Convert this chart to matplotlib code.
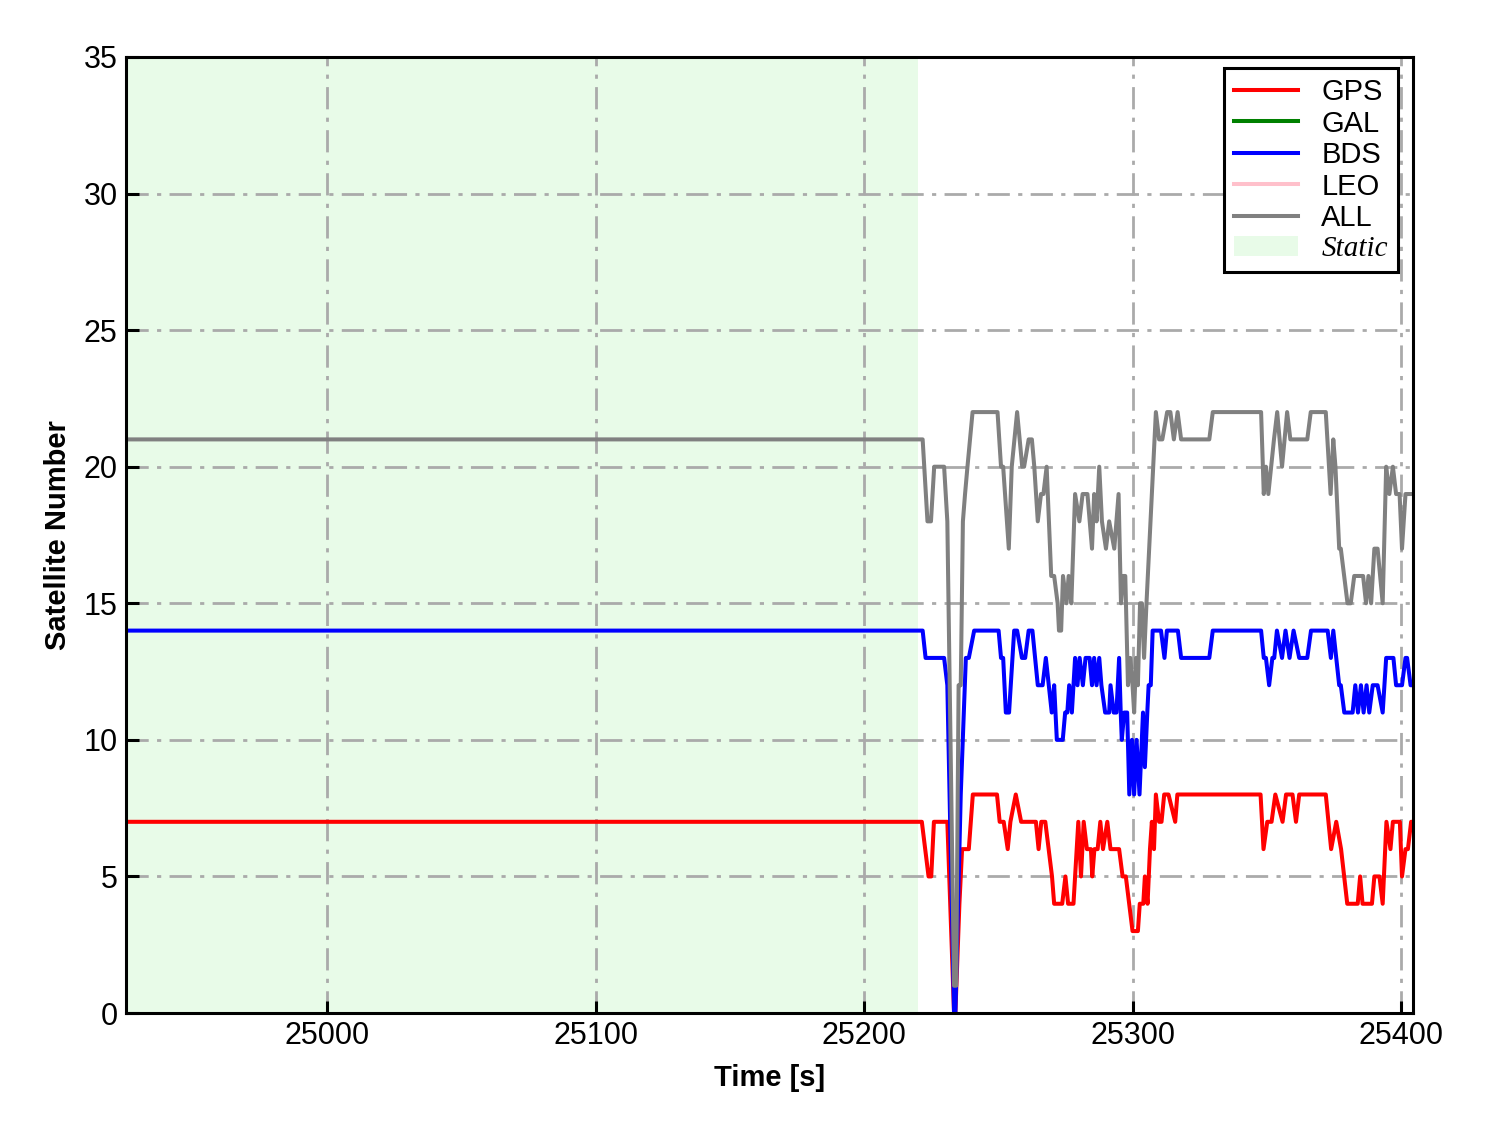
import matplotlib
matplotlib.use("Agg")
import matplotlib.pyplot as plt
from matplotlib.patches import Patch

# (time [s], number of satellites) breakpoints
gps = [(24925, 7), (25221.5, 7), (25224, 5), (25225, 5), (25226, 7), (25231, 7),
       (25233.5, 0), (25234, 0), (25235.5, 4), (25236.5, 6), (25239, 6), (25240.5, 8),
       (25249.5, 8), (25250.5, 7), (25252, 7), (25253.5, 6), (25254.5, 7), (25256.5, 8),
       (25258.5, 7), (25264, 7), (25265, 6), (25266, 7), (25267.5, 7), (25270, 5),
       (25270.8, 4), (25273.8, 4), (25275, 5), (25276, 4), (25278, 4), (25279.8, 7),
       (25280.8, 5), (25281.8, 7), (25283, 6), (25284.5, 6), (25285, 5), (25285.8, 6),
       (25287, 6), (25288, 7), (25289, 6), (25290.6, 7), (25291.8, 6), (25295, 6),
       (25296.3, 5), (25297.5, 5), (25300, 3), (25302, 3), (25302.7, 4), (25304, 4),
       (25304.6, 5), (25305.6, 4), (25306.5, 6), (25307.2, 7), (25308, 6), (25308.7, 8),
       (25309.9, 7), (25310.8, 7), (25311.8, 8), (25313.4, 8), (25315.9, 7), (25316.7, 8),
       (25347.7, 8), (25348.8, 6), (25350.2, 7), (25351.8, 7), (25353.2, 8), (25355.9, 7),
       (25357.2, 8), (25359.6, 8), (25360.9, 7), (25362.1, 8), (25372, 8), (25374, 6),
       (25375.9, 7), (25377.7, 6), (25380, 4), (25383.9, 4), (25384.8, 5), (25385.7, 4),
       (25389.2, 4), (25390.1, 5), (25392, 5), (25393.2, 4), (25394.6, 7), (25396.1, 6),
       (25397, 7), (25399.6, 7), (25400.4, 5), (25401.7, 6), (25402.6, 6), (25403.8, 7),
       (25405, 7)]

bds = [(24925, 14), (25221.8, 14), (25222.9, 13), (25229.8, 13), (25231, 12),
       (25233.5, 0), (25234, 0), (25236, 8), (25237.9, 13), (25239, 13), (25241, 14),
       (25250.1, 14), (25251, 13), (25251.8, 13), (25252.8, 11), (25254, 11),
       (25255.9, 14), (25257, 14), (25258.8, 13), (25260, 13), (25261.3, 14),
       (25262.7, 14), (25264.7, 12), (25266.5, 12), (25267.7, 13), (25269.9, 11),
       (25270.8, 12), (25271.8, 10), (25274, 10), (25274.9, 11), (25275.7, 11),
       (25276.4, 12), (25277.4, 11), (25278.6, 13), (25279.5, 12), (25280.3, 13),
       (25281.5, 12), (25282.5, 13), (25284, 13), (25284.9, 12), (25285.7, 13),
       (25286.6, 12), (25287.6, 13), (25288.4, 12), (25289.8, 11), (25291.3, 11),
       (25291.8, 12), (25293, 11), (25294, 11), (25295, 13), (25295.6, 11), (25296, 10),
       (25296.9, 11), (25298, 11), (25298.8, 8), (25299.8, 10), (25300.6, 8),
       (25301.5, 10), (25302.6, 8), (25303.9, 11), (25304.6, 9), (25305.5, 11),
       (25306, 12), (25306.8, 12), (25307.5, 14), (25310.6, 14), (25311.9, 13),
       (25312.8, 14), (25316.9, 14), (25318.1, 13), (25328.6, 13), (25329.9, 14),
       (25347.9, 14), (25348.9, 13), (25349.7, 13), (25350.9, 12), (25352.1, 13),
       (25352.8, 13), (25353.8, 14), (25355.7, 13), (25357, 14), (25358.5, 13),
       (25360, 14), (25362.1, 13), (25365.1, 13), (25366.5, 14), (25372.7, 14),
       (25373.9, 13), (25374.8, 14), (25377, 12), (25377.6, 12), (25378.9, 11),
       (25382, 11), (25383, 12), (25384, 11), (25385.1, 12), (25386.1, 11),
       (25387.2, 12), (25388.2, 11), (25389.5, 12), (25391.3, 12), (25393.2, 11),
       (25394.5, 13), (25397.2, 13), (25398.2, 12), (25400.4, 12), (25401.7, 13),
       (25402.3, 13), (25403.6, 12), (25405, 12)]

all_sys = [(24925, 21), (25221.8, 21), (25223.6, 18), (25224.9, 18), (25226.1, 20),
           (25229.8, 20), (25231, 18), (25233.5, 1), (25234.3, 1), (25235.2, 12),
           (25236, 12), (25236.8, 18), (25237.6, 19), (25238.5, 20), (25240.4, 22),
           (25249.7, 22), (25251, 20), (25251.8, 20), (25253.9, 17), (25255, 20),
           (25257, 22), (25258.9, 20), (25259.6, 20), (25261.3, 21), (25262.5, 21),
           (25263.4, 20), (25264.7, 18), (25265.9, 19), (25266.8, 19), (25268, 20),
           (25269.7, 16), (25270.8, 16), (25272.1, 15), (25272.6, 14), (25273.4, 14),
           (25274.1, 16), (25275.4, 15), (25276.2, 16), (25277.2, 15), (25278.6, 19),
           (25280.2, 18), (25281.4, 19), (25283.2, 19), (25284.9, 17), (25285.7, 19),
           (25286.6, 18), (25287.6, 20), (25288.6, 18), (25290.1, 17), (25291.3, 18),
           (25293.2, 17), (25294.8, 19), (25295.7, 15), (25296.5, 16), (25297.3, 16),
           (25298.3, 12), (25299.2, 13), (25300, 12), (25300.6, 11), (25301.3, 13),
           (25302, 12), (25302.8, 15), (25303.5, 15), (25304.3, 13), (25305.2, 15),
           (25308.7, 22), (25309.9, 21), (25311.1, 21), (25312.9, 22), (25314.1, 22),
           (25315.4, 21), (25316.8, 22), (25318.1, 21), (25328.6, 21), (25329.9, 22),
           (25347.9, 22), (25348.9, 19), (25349.7, 20), (25350.6, 19), (25352.7, 21),
           (25353.9, 22), (25355.7, 20), (25357.6, 22), (25358.8, 21), (25365.1, 21),
           (25366.4, 22), (25372, 22), (25373.8, 19), (25374.8, 21), (25375.6, 20),
           (25377, 17), (25377.6, 17), (25380.1, 15), (25381.3, 15), (25382.6, 16),
           (25385.9, 16), (25387, 15), (25387.9, 16), (25388.9, 15), (25390.1, 17),
           (25391.3, 17), (25393.2, 15), (25394.5, 20), (25395.7, 19), (25397, 20),
           (25398.2, 19), (25399.5, 19), (25400.4, 17), (25401.7, 19), (25405, 19)]

static_end = 25220
x_ticks = [25000, 25100, 25200, 25300, 25400]
y_ticks = [0, 5, 10, 15, 20, 25, 30, 35]

plt.rcParams["font.family"] = ["Liberation Sans", "DejaVu Sans"]

fig = plt.figure(figsize=(14.88, 11.33), dpi=100)
ax = fig.add_axes([0.0847, 0.1059, 0.8649, 0.8438])

ax.axvspan(24925, static_end, color="lightgreen", alpha=0.2, lw=0, zorder=0)

lw = 2.9
ax.plot(*zip(*gps), color="red", lw=lw, label="GPS")
ax.plot([], [], color="green", lw=lw, label="GAL")
ax.plot(*zip(*bds), color="blue", lw=lw, label="BDS")
ax.plot([], [], color="pink", lw=lw, label="LEO")
ax.plot(*zip(*all_sys), color="gray", lw=lw, label="ALL")

ax.set_xlim(24925, 25404.5)
ax.set_ylim(0, 35)
ax.set_xticks(x_ticks)
ax.set_yticks(y_ticks)
ax.grid(True, color="#aaaaaa", lw=2.0, linestyle=(0, (8, 3, 1.5, 3)))

ax.tick_params(direction="in", length=9, width=2.2, labelsize=22, pad=6)
for sp in ax.spines.values():
    sp.set_linewidth(2.2)

ax.set_xlabel("Time [s]", fontsize=21, fontweight="bold", labelpad=9)
ax.set_ylabel("Satellite Number", fontsize=21, fontweight="bold", labelpad=8)

handles, labels = ax.get_legend_handles_labels()
handles.append(Patch(facecolor="lightgreen", alpha=0.2, edgecolor="none"))
labels.append("Static")
leg = ax.legend(handles, labels, loc="upper right", fontsize=21, frameon=True,
                fancybox=False, edgecolor="black", framealpha=1,
                handlelength=2.2, labelspacing=0.12, borderpad=0.35,
                handletextpad=0.8, borderaxespad=0,
                bbox_to_anchor=(0.9883, 0.9885))
leg.get_frame().set_linewidth(2.2)
leg.get_texts()[-1].set_fontfamily("Liberation Serif")
leg.get_texts()[-1].set_fontstyle("italic")

fig.savefig("out.png", dpi=100)
